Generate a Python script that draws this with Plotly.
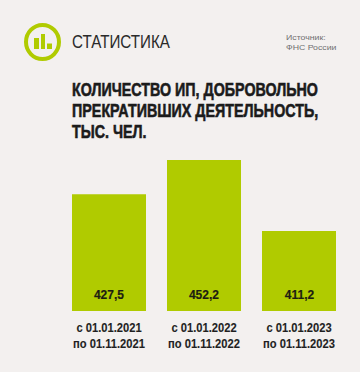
import plotly.graph_objects as go

W, H = 360, 372

periods = ["с 01.01.2021<br>по 01.11.2021", "с 01.01.2022<br>по 01.11.2022", "с 01.01.2023<br>по 01.11.2023"]
value_labels = ["427,5", "452,2", "411,2"]
# Bar lengths. The printed labels are kept as they are, but the
# source's third bar is drawn shorter than its label 411,2 implies on the scale of the other two.
bars_as_drawn = [427.5, 452.2, 401.1]
axis_floor = 343.5
title_lines = ["КОЛИЧЕСТВО ИП, ДОБРОВОЛЬНО", "ПРЕКРАТИВШИХ ДЕЯТЕЛЬНОСТЬ,", "ТЫС. ЧЕЛ."]
source_lines = ["Источник:", "ФНС России"]
brand = "СТАТИСТИКА"

BG = "#f3f0ef"
GREEN = "#b0cb00"
SANS = "Liberation Sans"


def px(x):
    return x / W


def py(y):
    return 1 - y / H


fig = go.Figure(go.Bar(
    x=[0, 1, 2], y=bars_as_drawn, marker=dict(color=GREEN, line=dict(width=0)),
    width=74 / 95, hoverinfo="skip",
))

annotations = []
for i, label in enumerate(value_labels):
    annotations.append(dict(x=i, y=axis_floor, xref="x", yref="y", yshift=17, text=f"<b>{label}</b>",
                            showarrow=False, yanchor="middle", xanchor="center",
                            font=dict(family=SANS, size=13.5, color="#1d1d12")))
for y, line in zip([89.5, 110.5, 131], title_lines):
    annotations.append(dict(x=px(70), y=py(y), xref="paper", yref="paper", text=f"<b>{line}</b>",
                            showarrow=False, xanchor="left", yanchor="middle",
                            font=dict(family=SANS, size=18.5, color="#1b1b1b")))
annotations.append(dict(x=px(70), y=py(42), xref="paper", yref="paper", text=brand, showarrow=False,
                        xanchor="left", yanchor="middle",
                        font=dict(family=SANS, size=18, color="#2a2a2a")))
annotations.append(dict(x=px(283.5), y=py(42), xref="paper", yref="paper", text="<br>".join(source_lines),
                        showarrow=False, xanchor="left", yanchor="middle", align="left",
                        font=dict(family=SANS, size=7.6, color="#6f6f6f")))

shapes = [dict(type="circle", xref="paper", yref="paper", x0=px(26), x1=px(59), y0=py(25), y1=py(59),
               line=dict(color=GREEN, width=4), fillcolor="rgba(0,0,0,0)")]
for x0, x1, top in [(34, 39, 38), (41, 45, 34), (47, 52, 43.5)]:
    shapes.append(dict(type="rect", xref="paper", yref="paper", x0=px(x0), x1=px(x1), y0=py(49), y1=py(top),
                       line=dict(width=0), fillcolor=GREEN))

fig.update_layout(
    width=W, height=H, margin=dict(l=0, r=0, t=0, b=0, pad=0),
    paper_bgcolor=BG, plot_bgcolor=BG, showlegend=False, autosize=False,
    annotations=annotations, shapes=shapes,
    xaxis=dict(domain=[px(61.5), px(346.5)], range=[-0.5, 2.5], tickmode="array", tickvals=[0, 1, 2],
               ticktext=[f"<b>{p}</b>" for p in periods], showgrid=False, zeroline=False, showline=False,
               ticks="", ticklabelstandoff=8,
               tickfont=dict(family=SANS, size=12, color="#1f1f1f")),
    yaxis=dict(domain=[py(311), py(160)], range=[axis_floor, 452.2], visible=False),
)

# No condensed face is installed: squeeze the real text horizontally about its anchor.
post = """
document.body.style.margin = '0';
document.body.style.background = '%s';
var gd = document.querySelector('.js-plotly-plot');
var all = Array.from(gd.querySelectorAll('text'));
function len(sample) {
  var out = 0;
  gd.querySelectorAll('text, tspan').forEach(function (e) {
    if (!out && e.textContent === sample) out = e.getComputedTextLength();
  });
  return out;
}
var groups = [
  ['18.5', 'КОЛИЧЕСТВО ИП, ДОБРОВОЛЬНО', 246, 0.6, true],
  ['18', 'СТАТИСТИКА', 98, 0, true],
  ['13.5', '427,5', 30, 0.2, false],
  ['12', 'по 01.11.2021', 72, 0.1, false],
  ['7.6', 'ФНС России', 50.5, 0, true]
];
groups.forEach(function (g) {
  var k = g[2] / len(g[1]);
  all.forEach(function (el) {
    if (parseFloat(el.style.fontSize) !== parseFloat(g[0])) return;
    var ax = g[4] ? el.getBBox().x : (parseFloat(el.getAttribute('x')) || 0);
    var prev = el.getAttribute('transform') || '';
    el.setAttribute('transform', prev + ' translate(' + ax + ' 0) scale(' + k + ' 1) translate(' + (-ax) + ' 0)');
    if (g[3]) { el.style.stroke = el.style.fill; el.style.strokeWidth = g[3] + 'px'; }
  });
});
""" % BG

fig.write_html("out.html", config={"displayModeBar": False}, post_script=post)
